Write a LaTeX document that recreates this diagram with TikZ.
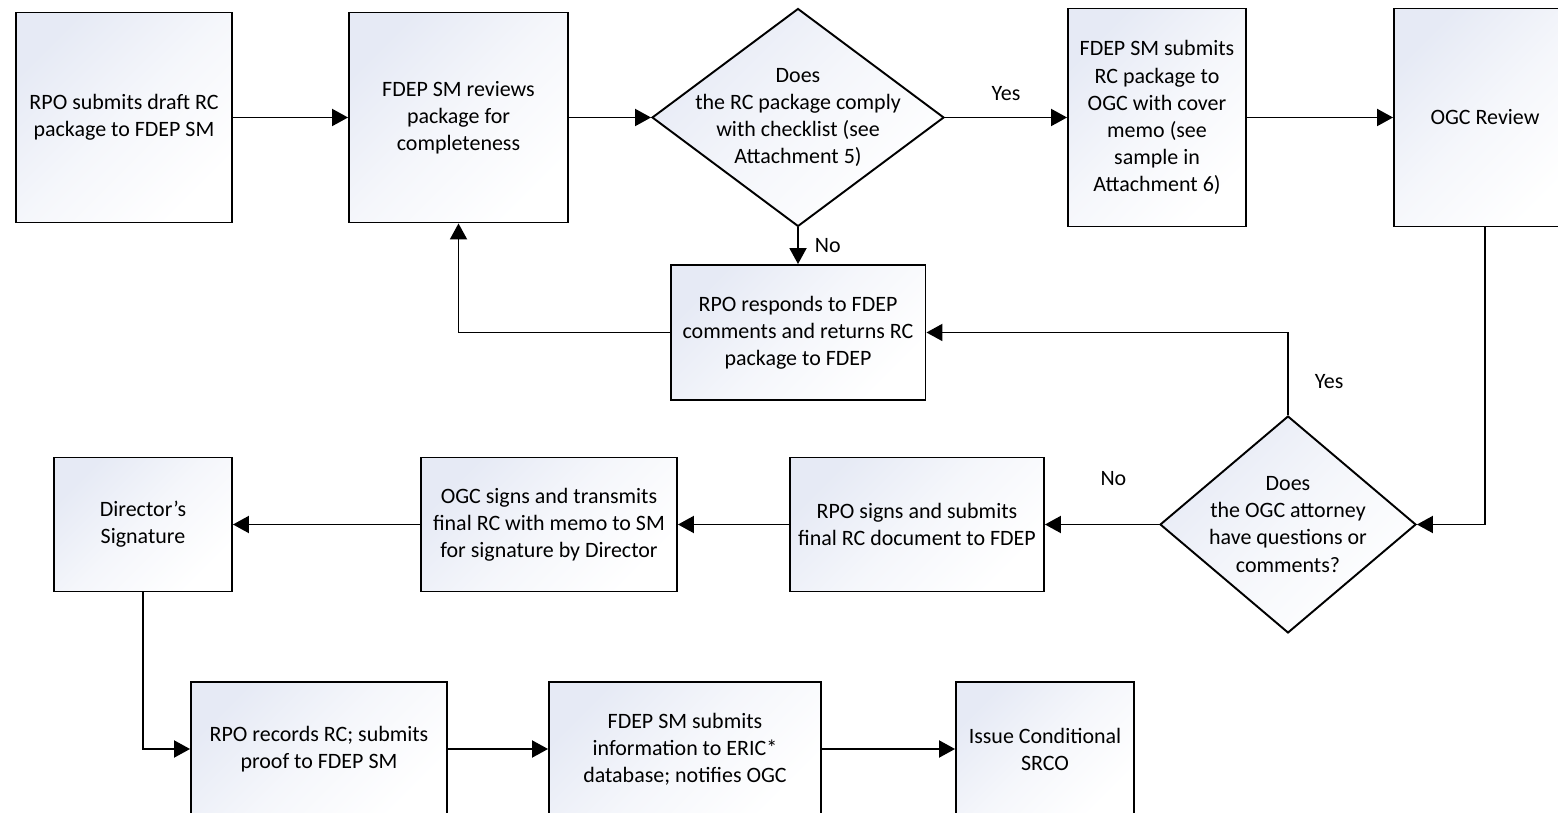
\documentclass[tikz,border=0pt]{standalone}
\usepackage{fontspec}
\setmainfont{Carlito}
\usepackage{tikz}
\usetikzlibrary{shapes.geometric, arrows.meta}
\definecolor{boxtint}{HTML}{E6EAF5}

\begin{document}
\begin{tikzpicture}[x=0.02cm, y=-0.02cm, line width=1.1pt,
		font=\fontsize{12.5}{15.4}\selectfont,
		>={Triangle[length=0.32cm, width=0.34cm]},
		proc/.style={draw, rectangle, align=center, inner sep=0pt, top color=boxtint, bottom color=white, middle color=white!60!boxtint, shading angle=45},
		decision/.style={draw, diamond, inner sep=0pt, top color=boxtint, bottom color=white, middle color=white!60!boxtint, shading angle=45}]
		\useasboundingbox (0,0) rectangle (1558,813);
		\clip (0,0) rectangle (1558,813);

		\node[proc, minimum width=4.32cm, minimum height=4.2cm] (b1) at (124,117.5) {RPO submits draft RC\\package to FDEP SM};
		\node[proc, minimum width=4.38cm, minimum height=4.2cm] (b2) at (458.5,117.5) {FDEP SM reviews\\package for\\completeness};
		\node[decision, minimum width=5.84cm, minimum height=4.36cm, label={[align=center]center:Does\\the RC package comply\\with checklist (see\\Attachment 5)}] (d1) at (798,117.5) {};
		\node[proc, minimum width=3.56cm, minimum height=4.36cm] (b3) at (1157,117.5) {FDEP SM submits\\RC package to\\OGC with cover\\memo (see\\sample in\\Attachment 6)};
		\node[proc, minimum width=3.64cm, minimum height=4.36cm] (b4) at (1485,117.5) {OGC Review};
		\node[proc, minimum width=5.1cm, minimum height=2.7cm] (b5) at (798,332.5) {RPO responds to FDEP\\comments and returns RC\\package to FDEP};

		\node[decision, minimum width=5.12cm, minimum height=4.34cm, label={[align=center]center:Does\\the OGC attorney\\have questions or\\comments?}] (d2) at (1288,524.5) {};
		\node[proc, minimum width=5.08cm, minimum height=2.68cm] (b6) at (917,524.5) {RPO signs and submits\\final RC document to FDEP};
		\node[proc, minimum width=5.12cm, minimum height=2.68cm] (b7) at (549,524.5) {OGC signs and transmits\\final RC with memo to SM\\for signature by Director};
		\node[proc, minimum width=3.56cm, minimum height=2.68cm] (b8) at (143,524.5) {Director’s\\Signature};

		\node[proc, minimum width=5.12cm, minimum height=2.68cm] (b9) at (319,749) {RPO records RC; submits\\proof to FDEP SM};
		\node[proc, minimum width=5.44cm, minimum height=2.68cm] (b10) at (685,749) {FDEP SM submits\\information to ERIC*\\database; notifies OGC};
		\node[proc, minimum width=3.56cm, minimum height=2.68cm] (b11) at (1045,749) {Issue Conditional\\SRCO};

		\draw[->] (b1) -- (b2);
		\draw[->] (b2) -- (d1);
		\draw[->] (d1) -- node[above=0.2cm] {Yes} (b3);
		\draw[->] (b3) -- (b4);
		\draw[->] (d1.south) -- node[right=0.2cm] {No} (b5.north);
		\draw[->] (b5.west) -| (b2.south);
		\draw[->] (d2.north) |- node[pos=0.2, right=0.4cm] {Yes} (b5.east);
		\draw[->] (b4.south) |- (d2.east);
		\draw[->] (d2) -- node[pos=0.4, above=0.65cm] {No} (b6);
		\draw[->] (b6) -- (b7);
		\draw[->] (b7) -- (b8);
		\draw[->] (b8.south) |- (b9.west);
		\draw[->] (b9) -- (b10);
		\draw[->] (b10) -- (b11);
	\end{tikzpicture}
\end{document}
